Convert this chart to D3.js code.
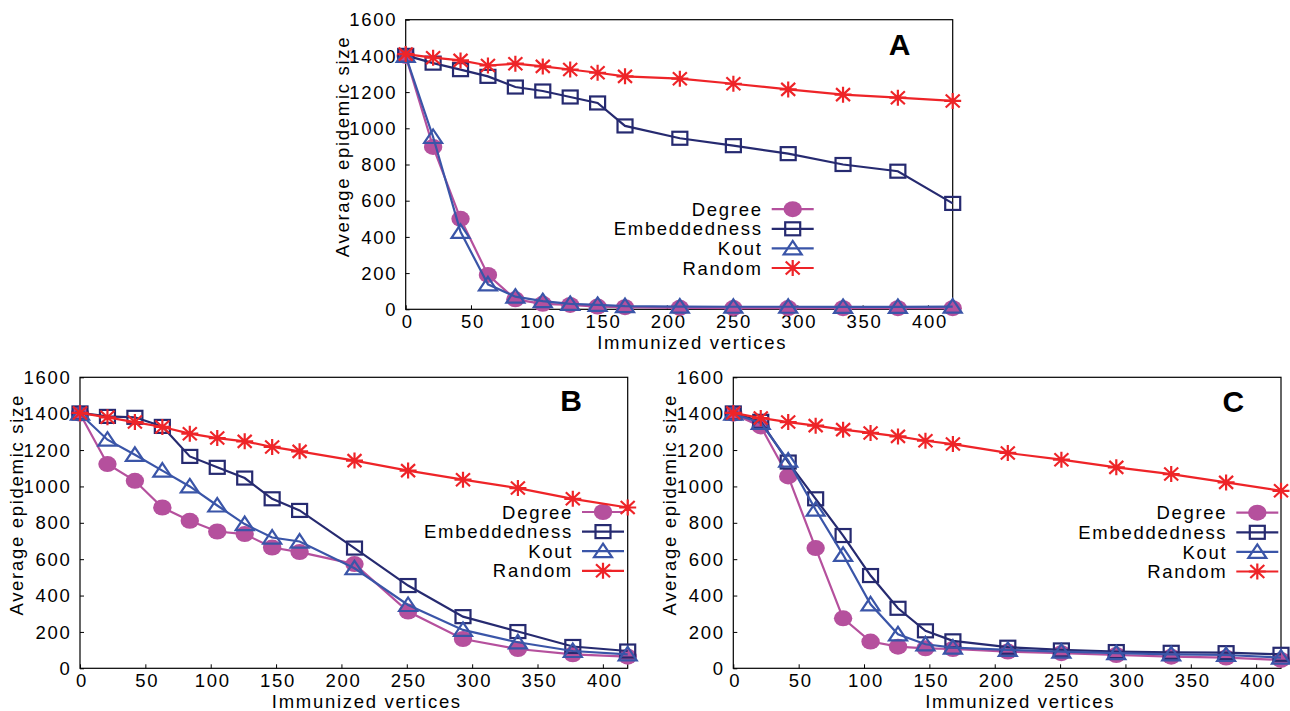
<!DOCTYPE html>
<html>
<head>
<meta charset="utf-8">
<script src="https://cdn.jsdelivr.net/npm/d3@7"></script>
<style>
	html, body { margin: 0; padding: 0; background: #fff; }
	svg text { font-family: "Liberation Sans", Arial, sans-serif; fill: #000; }
</style>
</head>
<body>
<svg id="chart" width="1290" height="711"></svg>
<script>
// immunized vertices (same for every panel)
var xValues = [0, 21, 42, 63, 84, 105, 126, 147, 168, 210, 251, 293, 335, 377, 419];
var xTicks = [0, 50, 100, 150, 200, 250, 300, 350, 400];
var yTicks = [0, 200, 400, 600, 800, 1000, 1200, 1400, 1600];
var seriesNames = ["Degree", "Embeddedness", "Kout", "Random"];
var panelLetters = ["A", "B", "C"];

// panel A
var degreeA = [1400, 897, 500, 190, 55, 30, 24, 15, 12, 8, 7, 7, 6, 6, 6];
var embedA = [1403, 1360, 1324, 1287, 1228, 1206, 1173, 1140, 1013, 945, 904, 860, 800, 763, 585];
var koutA = [1400, 952, 428, 138, 70, 45, 30, 24, 18, 15, 14, 14, 13, 13, 15];
var randomA = [1410, 1390, 1375, 1347, 1357, 1342, 1325, 1307, 1287, 1274, 1246, 1215, 1186, 1169, 1151];

// panel B
var degreeB = [1400, 1123, 1031, 884, 811, 752, 738, 664, 639, 573, 312, 161, 106, 77, 64];
var embedB = [1404, 1385, 1380, 1330, 1165, 1105, 1046, 932, 868, 661, 455, 284, 202, 120, 95];
var koutB = [1400, 1257, 1174, 1087, 1000, 895, 793, 719, 697, 550, 348, 211, 143, 95, 77];
var randomB = [1404, 1380, 1354, 1327, 1290, 1266, 1248, 1217, 1193, 1142, 1087, 1037, 991, 932, 884];

// panel C
var degreeC = [1400, 1330, 1055, 661, 275, 147, 119, 110, 106, 92, 83, 73, 64, 59, 46];
var embedC = [1404, 1358, 1134, 932, 730, 510, 330, 206, 151, 116, 101, 92, 88, 86, 77];
var koutC = [1400, 1349, 1142, 872, 624, 352, 187, 132, 114, 101, 92, 83, 77, 73, 59];
var randomC = [1404, 1376, 1354, 1334, 1312, 1294, 1275, 1251, 1233, 1184, 1147, 1105, 1068, 1022, 976];

var colors = {
	"Degree": "#b5509d",
	"Embeddedness": "#262a70",
	"Kout": "#3a55a8",
	"Random": "#ee2428"
};

var panels = [
	{letter: panelLetters[0], left: 405.7, top: 19.7, width: 547, height: 289.6,
		values: [degreeA, embedA, koutA, randomA],
		legendX: 366, legendY: 189.5, letterX: 494, letterY: 25},
	{letter: panelLetters[1], left: 80, top: 377.3, width: 547.7, height: 291,
		values: [degreeB, embedB, koutB, randomB],
		legendX: 502, legendY: 134.7, letterX: 491, letterY: 23},
	{letter: panelLetters[2], left: 733.3, top: 377.3, width: 547.7, height: 291,
		values: [degreeC, embedC, koutC, randomC],
		legendX: 503, legendY: 135.4, letterX: 500, letterY: 23.5}
];

var FONT = 18.5,
		SPACING = 1.7;

var svg = d3.select("#chart");

function drawMarker(g, name, color) {
	if(name == "Degree") {
		g.append("ellipse")
			.attr("rx", 9.2).attr("ry", 8)
			.attr("fill", color);
	} else if(name == "Embeddedness") {
		g.append("rect")
			.attr("x", -7.5).attr("y", -6.5)
			.attr("width", 15).attr("height", 13)
			.attr("fill", "none")
			.attr("stroke", color)
			.attr("stroke-width", 2.2);
	} else if(name == "Kout") {
		g.append("path")
			.attr("d", "M0,-7.5L9,6L-9,6Z")
			.attr("fill", "none")
			.attr("stroke", color)
			.attr("stroke-width", 2.2);
	} else {
		g.append("path")
			.attr("d", "M-8.5,0H8.5M0,-8V8M-7,-6.5L7,6.5M-7,6.5L7,-6.5")
			.attr("fill", "none")
			.attr("stroke", color)
			.attr("stroke-width", 2.2);
	}
}

function drawPanel(p) {
	var g = svg.append("g")
		.attr("transform", "translate(" + p.left + "," + p.top + ")");

	var x = d3.scaleLinear().domain([0, 419]).range([0, p.width]),
			y = d3.scaleLinear().domain([0, 1600]).range([p.height, 0]);

	// frame
	g.append("rect")
		.attr("width", p.width)
		.attr("height", p.height)
		.attr("fill", "none")
		.attr("stroke", "#000")
		.attr("stroke-width", 1.2);

	// inward ticks
	var xAxis = d3.axisTop(x).tickValues(xTicks).tickSize(4).tickFormat("");
	g.append("g")
		.attr("transform", "translate(0," + p.height + ")")
		.call(xAxis)
		.call(function(a) { a.select(".domain").remove(); });
	var yAxis = d3.axisRight(y).tickValues(yTicks).tickSize(4).tickFormat("");
	g.append("g")
		.call(yAxis)
		.call(function(a) { a.select(".domain").remove(); });

	// tick labels
	g.selectAll(".xlab")
		.data(xTicks)
		.enter().append("text")
			.attr("class", "xlab")
			.attr("x", function(d) { return x(d) + 2; })
			.attr("y", p.height + 19)
			.attr("text-anchor", "middle")
			.attr("font-size", FONT)
			.attr("letter-spacing", SPACING)
			.text(function(d) { return d; });
	g.selectAll(".ylab")
		.data(yTicks)
		.enter().append("text")
			.attr("class", "ylab")
			.attr("x", -8.5)
			.attr("y", function(d) { return y(d); })
			.attr("dy", "0.36em")
			.attr("text-anchor", "end")
			.attr("font-size", FONT)
			.attr("letter-spacing", SPACING)
			.text(function(d) { return d; });

	// axis titles
	g.append("text")
		.attr("x", p.width / 2 + 13)
		.attr("y", p.height + 39.5)
		.attr("text-anchor", "middle")
		.attr("font-size", FONT)
		.attr("letter-spacing", SPACING)
		.text("Immunized vertices");
	g.append("text")
		.attr("transform", "translate(-57," + (p.height / 2 - 18) + ") rotate(-90)")
		.attr("text-anchor", "middle")
		.attr("font-size", FONT)
		.attr("letter-spacing", SPACING)
		.text("Average epidemic size");

	// panel letter
	g.append("text")
		.attr("x", p.letterX)
		.attr("y", p.letterY)
		.attr("dy", "0.36em")
		.attr("text-anchor", "middle")
		.attr("font-weight", "bold")
		.attr("font-size", 30)
		.text(p.letter);

	var line = d3.line()
		.x(function(d) { return x(d.x); })
		.y(function(d) { return y(d.y); });

	seriesNames.forEach(function(name, i) {
		var color = colors[name];
		var pts = xValues.map(function(xv, j) { return {x: xv, y: p.values[i][j]}; });
		var sg = g.append("g").attr("class", "series");
		sg.append("path")
			.datum(pts)
			.attr("d", line)
			.attr("fill", "none")
			.attr("stroke", color)
			.attr("stroke-width", 2.2);
		sg.selectAll(".pt")
			.data(pts)
			.enter().append("g")
				.attr("class", "pt")
				.attr("transform", function(d) { return "translate(" + x(d.x) + "," + y(d.y) + ")"; })
				.each(function() { drawMarker(d3.select(this), name, color); });

		// legend row
		var ly = p.legendY + i * 19.6;
		g.append("text")
			.attr("x", p.legendX - 9)
			.attr("y", ly)
			.attr("dy", "0.36em")
			.attr("text-anchor", "end")
			.attr("font-size", FONT)
			.attr("letter-spacing", SPACING)
			.text(name);
		g.append("line")
			.attr("x1", p.legendX).attr("x2", p.legendX + 42)
			.attr("y1", ly).attr("y2", ly)
			.attr("stroke", color)
			.attr("stroke-width", 2.2);
		drawMarker(g.append("g").attr("transform", "translate(" + (p.legendX + 21) + "," + ly + ")"), name, color);
	});
}

panels.forEach(drawPanel);
</script>
</body>
</html>
